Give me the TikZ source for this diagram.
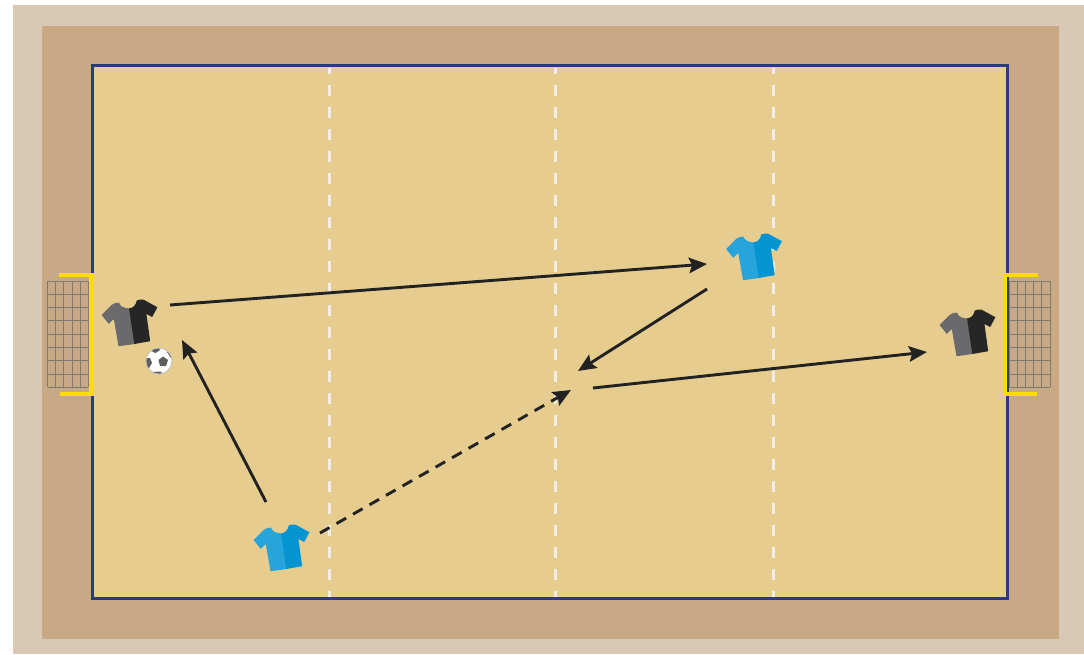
\documentclass[tikz,border=0pt]{standalone}
\usetikzlibrary{arrows.meta}
\definecolor{outerc}{HTML}{D8C8B4}
\definecolor{midc}{HTML}{C7A985}
\definecolor{fieldc}{HTML}{E6CD8F}
\definecolor{linec}{HTML}{2C3A7F}
\definecolor{goalc}{HTML}{FFDD00}
\definecolor{netc}{HTML}{7F7B72}
\definecolor{inkc}{HTML}{222222}
\definecolor{blueL}{HTML}{27A4DA}
\definecolor{blueD}{HTML}{0494D2}
\definecolor{grayL}{HTML}{6A6A6C}
\definecolor{grayD}{HTML}{262626}
\definecolor{dashc}{HTML}{F2EEE6}
\definecolor{ballc}{HTML}{5E5E5E}
\tikzset{
  x=1pt,y=-1pt,
  halfline/.style={draw=dashc,line width=3pt,dash pattern=on 11pt off 11pt,dash phase=5pt},
  goalbar/.style={draw=goalc,line width=4.2pt,line cap=butt,line join=miter},
  netgrid/.style={draw=netc,line width=1pt},
  pass/.style={draw=inkc,line width=2.9pt,-{Stealth[length=18pt,width=15.5pt,inset=3pt]}},
  passrun/.style={pass,dash pattern=on 11pt off 8pt},
}
\newcommand{\shirtat}[4]{%
  \begin{scope}[shift={(#1,#2)}]
    \fill[#3] (253.6,540) -- (263.5,530) .. controls (266,528.2) and (268.5,527.4) .. (271,527.6)
      .. controls (272,531) and (275.5,533.4) .. (281.3,533.4)
      -- (286.8,569) -- (270.5,571.2) -- (265.8,544) -- (260.7,548.8) -- cycle;
    \fill[#4] (281,533.4) .. controls (285,533.2) and (288,530) .. (288.8,525.5)
      .. controls (291,524.5) and (293,524.2) .. (295.2,524.5) -- (309.4,532.2) -- (304.2,542) -- (298.4,539)
      -- (302.2,566.2) -- (286.3,569) -- cycle;
  \end{scope}}
\begin{document}
\begin{tikzpicture}
\useasboundingbox (0,0) rectangle (1084,654);
\fill[white] (0,0) rectangle (1084,654);
\fill[outerc] (13,5) rectangle (1084,654);
\fill[midc] (42,26) rectangle (1059,639);
\fill[fieldc,draw=linec,line width=3pt] (92.5,65.5) rectangle (1007,598.5);
\foreach \xx in {329,555,773}{\draw[halfline] (\xx,67.5) -- (\xx,597);}
% nets
\foreach \yy in {0,1,...,8}{
  \draw[netgrid] (47.5,281+\yy*13.3) -- (88.3,281+\yy*13.3);
  \draw[netgrid] (1009.3,281+\yy*13.3) -- (1050,281+\yy*13.3);}
\foreach \xx in {0,1,...,5}{
  \draw[netgrid] (47.7+\xx*8.1,281) -- (47.7+\xx*8.1,387.4);
  \draw[netgrid] (1009.5+\xx*8.1,281) -- (1009.5+\xx*8.1,387.4);}
% goals
\draw[goalbar] (59,275.3) -- (91.5,275.3) -- (91.5,394) -- (60,394);
\draw[goalbar] (1038,275) -- (1005.2,275) -- (1005.2,394) -- (1037,394);
% shirts
\shirtat{0}{0}{blueL}{blueD}
\shirtat{472.5}{-291}{blueL}{blueD}
\shirtat{-152}{-225}{grayL}{grayD}
\shirtat{686}{-215}{grayL}{grayD}
% ball
\begin{scope}
\clip (159,361) circle (13);
\fill[white] (159,361) circle (13);
\fill[ballc] (163,356.5) -- (168,360) -- (166,366) -- (160,366) -- (158.5,360) -- cycle;
\fill[ballc] (152,347) -- (158,346) -- (160,350) -- (155.5,353) -- (151.5,351) -- cycle;
\fill[ballc] (146,358) -- (150,358) -- (152,363) -- (149,368) -- (145,366) -- cycle;
\fill[ballc] (153,372) -- (161,371.5) -- (163,375) -- (152,375) -- cycle;
\fill[ballc] (167,347) -- (172,351) -- (174,358) -- (171,358) -- (167,352) -- cycle;
\fill[ballc] (170,368) -- (174,364) -- (173,371) -- (168,373) -- cycle;
\end{scope}
\draw[gray!55,line width=.7pt] (159,361) circle (13);
% connectors
\coordinate (a1) at (170,305); \coordinate (a2) at (707,264);
\coordinate (b1) at (707,289); \coordinate (b2) at (578,371);
\coordinate (c1) at (593,388); \coordinate (c2) at (927,352);
\coordinate (d1) at (266,502); \coordinate (d2) at (182,340);
\coordinate (e1) at (320,533); \coordinate (e2) at (571,390);
\draw[pass] (a1) -- (a2);
\draw[pass] (b1) -- (b2);
\draw[pass] (c1) -- (c2);
\draw[pass] (d1) -- (d2);
\draw[passrun] (e1) -- (e2);
\end{tikzpicture}
\end{document}
